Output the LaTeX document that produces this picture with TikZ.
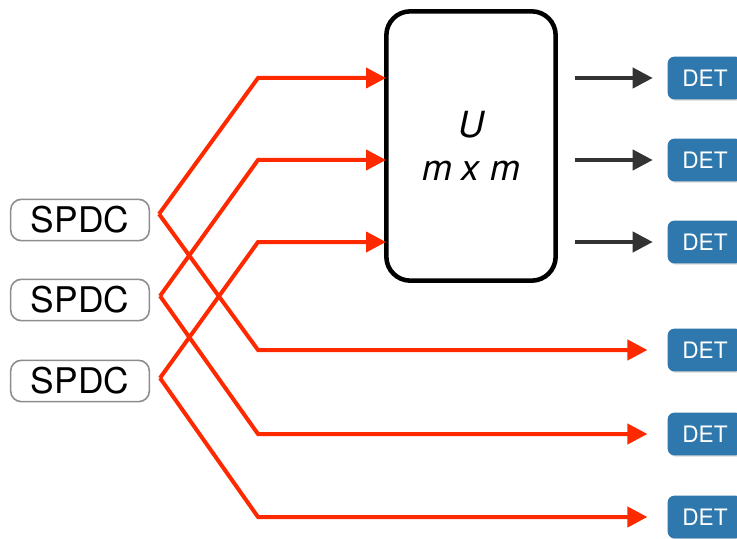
\documentclass[tikz,border=0pt]{standalone}
\usepackage{fontspec}
\setmainfont{TeX Gyre Heros}
\usetikzlibrary{arrows.meta,shadows}
\definecolor{BeamClr}{rgb}{1,0.16,0}
\definecolor{DetClr}{rgb}{0.18,0.47,0.68}
\definecolor{ArrowClr}{rgb}{0.2,0.2,0.2}
\definecolor{SrcClr}{rgb}{0.55,0.55,0.57}

\begin{document}
\begin{tikzpicture}[x=.75pt,y=-.75pt,
  spdc/.style={draw=SrcClr,line width=1.2pt,rounded corners=8pt,
    minimum width=104pt,minimum height=31pt,font=\fontsize{26.5}{26.5}\selectfont},
  unit/.style={draw=black,line width=3.4pt,rounded corners=18pt,
    minimum width=127pt,minimum height=202pt,align=center,
    font=\fontsize{27}{32}\selectfont\itshape},
  det/.style={fill=DetClr,rounded corners=5pt,text=white,
    minimum width=56pt,minimum height=32pt,font=\fontsize{17}{17}\selectfont,
    drop shadow={opacity=.3,shadow xshift=1pt,shadow yshift=-1pt}},
  beam/.style={draw=BeamClr,line width=3pt,line join=miter,
    -{Triangle[length=15pt,width=15pt]}},
  gate/.style={draw=ArrowClr,line width=3pt,
    -{Triangle[length=15pt,width=15pt]}}]

\clip (0,0) rectangle (737,538);

\node[spdc] (s1) at (80,220) {SPDC};
\node[spdc] (s2) at (80,300) {SPDC};
\node[spdc] (s3) at (80,381) {SPDC};

\node[unit] (U) at (471,146) {U\\m x m};

\coordinate (a1) at (159,214);
\coordinate (a2) at (160,296);
\coordinate (a3) at (160,378);

\foreach \i/\y in {1/78,2/160,3/242}{
  \coordinate (in\i) at (386,\y);
  \coordinate (out\i) at (575,\y);
  \node[det] (d\i) at (705,\y) {DET};
  \draw[gate,shorten >=11pt] (out\i) -- (d\i.west);
  \draw[beam] (a\i) -- (258,\y) -- (in\i);
}

\foreach \i/\y in {1/350,2/434,3/517}{
  \node[det] (e\i) at (705,\y) {DET};
  \draw[beam,shorten >=15pt] (a\i) -- (258,\y) -- (e\i.west);
}

\end{tikzpicture}
\end{document}
